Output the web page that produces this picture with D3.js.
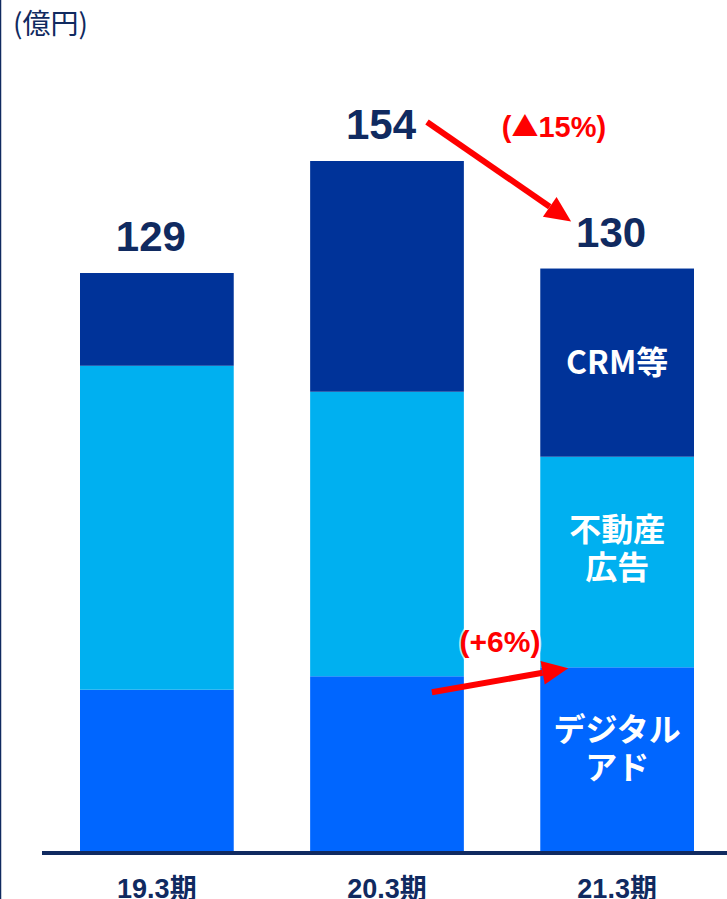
<!DOCTYPE html>
<html>
<head>
<meta charset="utf-8">
<script src="https://cdn.jsdelivr.net/npm/d3@7"></script>
<style>
  html, body { margin: 0; padding: 0; background: #fff; }
  svg { display: block; }
</style>
</head>
<body>
<svg id="chart" width="727" height="899"></svg>
<script>
// data (億円)
var categories = ["19.3期", "20.3期", "21.3期"];
var digitalAd = [36, 39, 41];
var realEstateAd = [72.3, 63.5, 47];
var crmEtc = [20.7, 51.5, 42];
var totals = [129, 154, 130];
var segmentNames = ["digital", "realEstate", "crm"];
var segmentLabels = [["デジタル", "アド"], ["不動産", "広告"], ["CRM等"]];

var navy = "#102a60";
var colors = { digital: "#0066ff", realEstate: "#00b0f0", crm: "#003399" };
var latin = "'Liberation Sans', Arial, 'Noto Sans CJK JP', sans-serif";
var cjk = "'Noto Sans CJK JP', 'Liberation Sans', sans-serif";

var svg = d3.select("#chart");

var rows = categories.map(function(c, i) {
    return { cat: c, digital: digitalAd[i], realEstate: realEstateAd[i], crm: crmEtc[i] };
});

var x = d3.scaleBand().domain(categories).range([80, 694]).paddingInner(0.332).paddingOuter(0);
var y = d3.scaleLinear().domain([0, 154]).range([851, 161]);

var stack = d3.stack().keys(segmentNames)(rows);

// left frame line
svg.append("line")
    .attr("x1", 0.5).attr("x2", 0.5).attr("y1", 0).attr("y2", 899)
    .attr("stroke", navy).attr("stroke-width", 1.5);

// unit
svg.append("text")
    .attr("x", 13).attr("y", 34)
    .attr("font-family", cjk).attr("font-size", 28)
    .attr("fill", navy)
    .text("(億円)");

// bars
svg.append("g").selectAll("g")
    .data(stack)
    .join("g")
        .attr("fill", function(d) { return colors[d.key]; })
    .selectAll("rect")
    .data(function(d) { return d; })
    .join("rect")
        .attr("x", function(d) { return x(d.data.cat); })
        .attr("y", function(d) { return y(d[1]); })
        .attr("width", x.bandwidth())
        .attr("height", function(d) { return y(d[0]) - y(d[1]); });

// baseline
svg.append("line")
    .attr("x1", 42).attr("x2", 727)
    .attr("y1", y(0) + 2).attr("y2", y(0) + 2)
    .attr("stroke", navy).attr("stroke-width", 4);

// category labels
svg.append("g").selectAll("text")
    .data(categories)
    .join("text")
        .attr("x", function(d) { return x(d) + x.bandwidth() / 2; })
        .attr("y", 898)
        .attr("text-anchor", "middle")
        .attr("font-family", latin).attr("font-weight", "bold").attr("font-size", 27)
        .attr("fill", navy)
        .text(function(d) { return d; });

// totals
svg.append("g").selectAll("text")
    .data(totals)
    .join("text")
        .attr("x", function(d, i) { return x(categories[i]) + x.bandwidth() / 2 - 6; })
        .attr("y", function(d) { return y(d) - 22; })
        .attr("text-anchor", "middle")
        .attr("font-family", latin).attr("font-weight", "bold").attr("font-size", 42)
        .attr("fill", navy)
        .text(function(d) { return d; });

// segment labels on the last bar
var last = categories.length - 1;
var labelOffsets = [-10, -13, 0];
stack.forEach(function(layer, k) {
    var seg = layer[last];
    var cy = (y(seg[0]) + y(seg[1])) / 2 + labelOffsets[k];
    var lines = segmentLabels[k];
    var lh = 38;
    svg.append("text")
        .attr("x", x(categories[last]) + x.bandwidth() / 2)
        .attr("y", cy - (lines.length - 1) * lh / 2 + 11)
        .attr("text-anchor", "middle")
        .attr("font-family", cjk).attr("font-weight", "bold").attr("font-size", 32)
        .attr("fill", "#fff")
        .selectAll("tspan")
        .data(lines)
        .join("tspan")
            .attr("x", x(categories[last]) + x.bandwidth() / 2)
            .attr("dy", function(d, i) { return i == 0 ? 0 : lh; })
            .text(function(d) { return d; });
});

function drawArrow(x1, y1, x2, y2)
{
    var ang = Math.atan2(y2 - y1, x2 - x1);
    var headLen = 26, headW = 12;
    var bx = x2 - headLen * Math.cos(ang), by = y2 - headLen * Math.sin(ang);
    svg.append("line")
        .attr("x1", x1).attr("y1", y1).attr("x2", bx).attr("y2", by)
        .attr("stroke", "#ff0000").attr("stroke-width", 6);
    var px = -Math.sin(ang), py = Math.cos(ang);
    svg.append("path")
        .attr("d", "M" + x2 + "," + y2 +
            "L" + (bx + px * headW) + "," + (by + py * headW) +
            "L" + (bx - px * headW) + "," + (by - py * headW) + "Z")
        .attr("fill", "#ff0000");
}

// total change arrow
var c2 = x(categories[1]) + x.bandwidth() / 2;
var c3 = x(categories[2]) + x.bandwidth() / 2;
drawArrow(c2 + 40, y(totals[1]) - 39, c3 - 46, y(totals[2]) - 47);
var t1 = svg.append("text")
    .attr("x", 554).attr("y", y(totals[1]) - 24)
    .attr("text-anchor", "middle")
    .attr("font-family", latin).attr("font-weight", "bold").attr("font-size", 29)
    .attr("fill", "#ff0000");
t1.append("tspan").text("(");
t1.append("tspan").attr("font-family", cjk).attr("font-size", 27).text("▲");
t1.append("tspan").text("15%)");

// digital change arrow
drawArrow(x(categories[1]) + x.bandwidth() - 32, y(digitalAd[1]) + 16,
          x(categories[2]) + 28, y(digitalAd[2]) + 1);
svg.append("text")
    .attr("x", 500).attr("y", y(digitalAd[1]) - 24)
    .attr("text-anchor", "middle")
    .attr("font-family", latin).attr("font-weight", "bold").attr("font-size", 30)
    .attr("fill", "#ff0000")
    .attr("stroke", "#fff").attr("stroke-width", 4).attr("stroke-opacity", 0.7)
    .attr("paint-order", "stroke")
    .text("(+6%)");
</script>
</body>
</html>
